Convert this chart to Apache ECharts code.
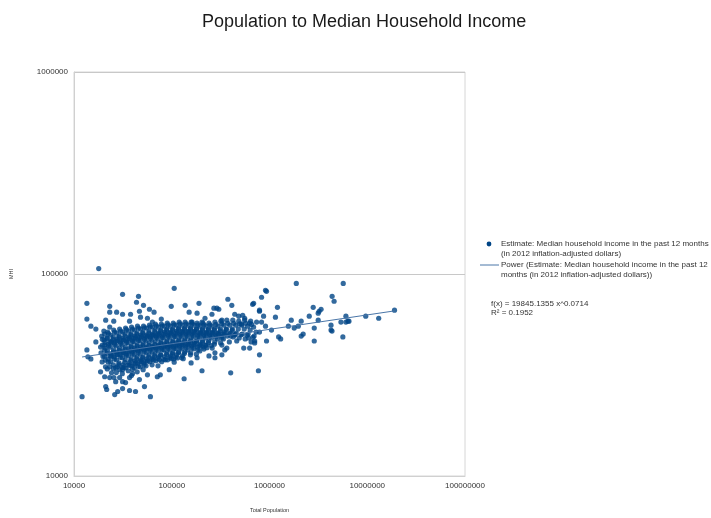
<!DOCTYPE html>
<html>
<head>
<meta charset="utf-8">
<script src="https://cdn.jsdelivr.net/npm/echarts@6/dist/echarts.min.js"></script>
<style>
  html, body { margin: 0; padding: 0; background: #ffffff; }
  #chart { width: 711px; height: 518px; }
</style>
</head>
<body>
<div id="chart"></div>
<script>
// Titles and legend texts
const chartTitle = 'Population to Median Household Income';
const xAxisName = 'Total Population';
const yAxisName = 'MHI';
const seriesName = 'Estimate: Median household income in the past 12 months\n(in 2012 inflation-adjusted dollars)';
const trendName = 'Power (Estimate: Median household income in the past 12\nmonths (in 2012 inflation-adjusted dollars))';

// Axis ticks (log scale, one per decade)
const xTicks = [10000, 100000, 1000000, 10000000, 100000000];
const yTicks = [10000, 100000, 1000000];

// Power trend line f(x) = a * x^b
const trendA = 19845.1355;
const trendB = 0.0714;
const rSquared = 0.1952;

// [total population, median household income] - the main body of areas
const coreAreas = [
  [19200,49300],[19500,44500],[18900,40700],[19400,36700],
  [20600,50400],[20300,47100],[20900,43000],[20500,39300],[21000,34700],
  [22100,51600],[21800,48200],[22400,45000],[22000,41600],[22300,38000],[21900,33900],
  [23800,49900],[24100,46600],[23500,43500],[23900,40200],[23600,36800],[24200,32400],
  [25500,52800],[25200,48800],[25800,45600],[25400,42100],[25700,38900],[25300,35500],[25600,30700],
  [27300,51000],[27700,47700],[27000,44000],[27500,41100],[27200,37600],[27800,34700],
  [29300,53400],[29000,49300],[29600,46100],[29200,43000],[29700,39800],[28900,36300],[29400,33600],
  [31400,51600],[31800,48200],[31100,44500],[31600,41600],[31300,38500],[31900,35500],[31200,32100],
  [33700,54000],[33300,50400],[34100,46600],[33500,43500],[34000,40200],[33400,37600],[33900,34300],
  [36200,52200],[36600,48800],[35800,45600],[36400,42600],[36000,39300],[36700,36300],[35900,33200],
  [38800,54600],[38400,50400],[39200,47100],[38600,44000],[39100,41100],[38500,38000],[39300,35100],[38700,31400],
  [41600,52800],[42100,49300],[41200,46100],[41800,43000],[41300,39800],[42200,37200],[41500,34300],
  [44600,55200],[44100,51000],[45100,47700],[44400,44500],[45000,41600],[44200,38900],[44800,35900],[44300,32800],
  [47900,53400],[48400,49900],[47400,46600],[48100,43500],[47600,40200],[48500,37600],[47700,34700],
  [51400,55200],[50800,51600],[52000,48200],[51100,45000],[51800,42100],[50900,38900],[51600,36300],[51000,33600],
  [55100,54000],[55700,49900],[54500,46600],[55400,43500],[54800,40700],[55800,38000],[54600,35100],
  [59100,55800],[58500,52200],[59800,48800],[58800,45600],[59500,42600],[58600,39800],[59700,36800],
  [63400,54600],[64100,50400],[62700,47100],[63800,44000],[63000,41100],[64200,38500],[62900,35500],
  [68000,56500],[67300,52800],[68700,49300],[67600,46100],[68400,43000],[67400,40200],[68800,37200],
  [72900,54600],[73700,51000],[72200,47700],[73300,44500],[72500,41600],[73800,38900],[72300,35100],
  [78200,56500],[77400,52800],[79000,49300],[77800,46100],[78700,43000],[77500,39800],[78900,36800],
  [83900,55200],[84800,51600],[83000,48200],[84400,45000],[83300,42100],[84900,38900],
  [90000,57100],[89000,53400],[91000,49900],[89500,46600],[90600,43500],[89200,40700],[90800,37600],
  [96500,55200],[97600,51600],[95500,48200],[97000,45000],[95900,42100],[97500,39300],
  [103600,57100],[102400,53400],[104800,49900],[103000,46600],[104300,43500],[102600,40700],[104500,38000],
  [111100,55800],[112400,52200],[109900,48800],[111800,45600],[110400,42600],[112300,39800],
  [119100,57800],[117800,54000],[120500,50400],[118500,47100],[119900,44000],[117900,41100],
  [127800,55800],[129300,52200],[126400,48800],[128600,45600],[127000,42600],[129100,39300],
  [137100,57800],[135600,54000],[138700,50400],[136300,47100],[137900,44000],[135700,41100],
  [147100,55800],[148800,52200],[145500,48800],[148000,45600],[146200,42100],
  [157800,57800],[156000,54000],[159600,50400],[156900,47100],[158700,44000],[156200,40700],
  [169200,55800],[171200,52200],[167300,48800],[170300,45600],[168200,42600],
  [181500,57100],[179500,53400],[183600,49900],[180400,46600],[182700,43500],
  [194700,55200],[196900,51600],[192600,48200],[195900,45000],[193600,41600],
  [208800,57100],[206500,53400],[211200,49900],[207600,46600],[210000,43500],
  [224000,55200],[226600,51600],[221500,48200],[225300,44500],
  [240300,57100],[237700,53400],[243100,49900],[239000,46600],
  [257800,55200],[260800,51600],[254900,48200],[259300,43000],
  [276600,57800],[273500,53400],[279800,49900],[275100,46100],
  [296600,55200],[300000,51000],[293300,47700],
  [318100,58400],[314600,53400],[321800,49300],[316300,45600],
  [341200,55800],[345100,51600],[337400,47700],
  [366000,59100],[361900,53400],[370200,49300],
  [392700,55800],[397200,51000],[388300,46100],
  [421100,59100],[416400,53400],[425900,48800],
  [451700,55800],[456900,51000],
  [484600,58400],[479200,53400],[490100,48200],
  [519700,55800],[525700,50400],
  [557500,59100],[551300,53400],[563900,47700],
  [597900,55200],[604800,50400],
  [641300,58400],[634200,52800],[648700,46100],
  [688000,54600],[695900,49300],
  [737900,57800],[729700,51600]
];

// [total population, median household income] - further areas packed inside the main body
const coreAreasInner = [
  [19500,47500],[20400,42000],[19800,39100],
  [21900,48000],[20800,45900],[21700,40500],[20900,37500],
  [22500,50700],[23400,46000],[22700,44000],[23500,39200],[22400,36600],
  [25100,47500],[24100,45800],[25200,41200],[24200,39200],[25300,34000],
  [26000,51600],[26900,46500],[26100,44600],[27000,39900],[25900,37900],[27100,32500],
  [28900,48600],[27800,46600],[29000,41900],[27900,40000],[28700,35600],
  [30000,52100],[30900,47000],[30100,45300],[31000,40800],[29800,38700],[31200,34400],
  [33200,49200],[32100,47100],[33300,42400],[32200,40700],[33000,36500],[32400,34400],
  [34400,53000],[35500,47800],[34500,45800],[35600,41200],[34300,39600],[35800,35400],
  [38200,49800],[36900,48000],[38300,43500],[37000,41600],[38000,37300],[37200,35300],
  [39600,53300],[40900,48000],[39800,46300],[41000,41900],[39500,40200],[41200,36000],[39600,33800],
  [43900,50300],[42400,48500],[44000,43900],[42500,42100],[43700,38000],[42700,36300],
  [45600,53900],[47000,48600],[45700,46900],[47100,42400],[45400,40900],[47300,36900],[45500,34900],
  [50500,50900],[48900,49000],[50600,44400],[49000,42500],[50300,38400],[49200,36700],
  [52500,54200],[54100,49200],[52600,47400],[54200,42900],[52300,41200],[54400,37100],[52400,35500],
  [58200,51200],[56300,49000],[58300,44400],[56400,42800],[58000,38800],[56600,37100],
  [60400,54800],[62300,49800],[60500,48000],[62400,43500],[60200,41900],[62600,37800],
  [66900,51800],[64800,49500],[67000,44900],[64900,43200],[66700,39300],[65100,37500],
  [69500,55400],[71700,50300],[69600,48500],[71800,43900],[69300,42300],[72000,38200],
  [77000,52100],[74500,50100],[77100,45500],[74600,43700],[76800,39700],[74800,37600],
  [80000,55400],[82500,50300],[80100,48500],[82600,43900],[79800,42100],[82800,37800],
  [88600,52700],[85800,50700],[88700,46000],[85900,44200],[88400,40000],[86100,37600],
  [92000,56000],[95000,50900],[92100,49000],[95100,44400],[91800,42800],[95300,38600],
  [102000,52700],[98600,50700],[102200,46000],[98800,44200],[101700,40200],[99100,38100],
  [106000,56000],[109200,50900],[106200,49000],[109400,44400],[105700,42800],[109800,38800],[105900,36600],
  [117400,53300],[113500,51300],[117600,46600],[113700,44800],[117100,40700],[114000,38400],
  [121900,56700],[125700,51500],[122100,49500],[125900,44900],[121600,43200],[126200,38500],
  [135000,53300],[130600,51300],[135300,46600],[130800,44800],[134700,40400],[131100,38100],
  [140300,56700],[144600,51500],[140500,49500],[144800,44900],[140000,43200],
  [155400,53300],[150400,51300],[155700,46600],[150600,44500],[155100,39800],
  [161500,56700],[166600,51500],[161700,49500],[166800,44900],[161200,43000],
  [178800,53300],[173000,51300],[179000,46600],[173200,44800],[178500,40100],
  [185700,56000],[191600,50900],[185900,49000],[191800,44400],[185400,42200],
  [205700,52700],[199100,50700],[205900,46000],[199300,44000],
  [213700,56000],[220400,50900],[213900,49000],[220600,44400],[213400,42500],
  [236600,52700],[229000,50700],[236800,45700],[229200,43200],
  [246000,56000],[253800,50900],[246200,49000],[254000,44200],
  [272300,52700],[263600,50700],[272500,44900],
  [283100,56300],[292000,50900],[283300,48800],
  [313400,52300],[303400,50100],
  [325500,56600],[335900,50600],[325700,48200],
  [360600,53000],[349100,50400],
  [374500,57000],[386400,50600],
  [415000,52600],[401800,49300],
  [431100,57000],[444800,50300],
  [496000,56600],[511800,50000],
  [570700,57000],[589000,49800],
  [656500,56300],[677500,48600]
];

// [total population, median household income] - areas away from the main body
const outlyingAreas = [
  [17900,106400],[31400,79300],[45700,77500],[13550,71600],[43600,72450],[51400,70000],
  [23200,69200],[59100,66900],[65900,64700],[23200,64700],[27300,64700],[31400,63200],
  [37900,63200],[46700,65400],[13550,59800],[21100,59100],[25500,58400],[37000,58400],
  [47900,61100],[56400,60400],[63400,57800],[78200,59800],[98800,69200],[14880,55200],
  [16740,53400],[20200,52200],[23200,54600],
  [106000,84900],[137100,70000],[190000,71600],[270000,67700],[303000,66900],[375000,75000],
  [411400,70000],[688000,71600],[829300,76700],[932200,82100],[790000,66200],[150600,64700],
  [181500,64000],[257800,63200],[218800,60400],[441000,63200],[484600,61800],[532000,62500],
  [626400,57100],[829300,57800],[910000,55200],[161500,57800],[204000,57800],[325600,59100],
  [519700,56500],
  [1880000,89800],[5680000,89800],[910000,83000],[4370000,77500],[4580000,73300],[672000,70800],
  [1206000,68400],[2800000,68400],[3370000,66900],[3220000,65400],[3150000,64000],[289700,67700],
  [557500,60400],[790000,65400],[870000,61800],[1150000,61100],[1670000,59100],[2110000,58400],
  [2550000,61800],[3150000,59100],[6050000,61800],[6340000,58400],[9650000,61800],[13100000,60400],
  [19000000,66200],[2870000,54000],[4260000,55800],[4260000,52800],[4360000,52200],[5630000,48800],
  [2870000,46600],[1560000,55200],[1790000,54000],[1970000,55200],[2110000,49300],[2210000,50400],
  [1048000,52800],[1240000,48800],[1300000,47700],[790000,51600],[932200,46600],[790000,39800],
  [770000,33200],[401000,32400],[545000,43000],[705000,46600],[612000,48200],[441000,49900],
  [462400,46600],[325600,44500],[366000,43000],[276600,40700],[240300,39300],[276600,38500],
  [204000,33200],
  [5380000,57800],[6050000,57800],[6500000,58400],
  [133800,30300],[157800,36300],[181500,38500],[325600,39800],[349000,42100],[626400,43000],
  [705000,45600],
  [12100,24700],[13550,42100],[13870,38900],[14880,38000],[16740,46100],[18700,43500],
  [20600,44500],[18700,32800],[20600,31000],[21100,27700],[21600,26800],[26100,25300],
  [28000,26200],[31400,27100],[33700,29000],[42600,26200],[52600,27700],[60500,24700],
  [23200,30700],[26700,29300],[29300,30700],[31400,29300],[37000,30700],[39700,32100],
  [46700,30000],[56400,31700],[71200,31000],[76400,31700],[94300,33600],[23200,34700],
  [26700,34300],[31400,33600],[37000,26500]
];

const areas = coreAreas.concat(coreAreasInner, outlyingAreas);

// Trend line spans the population range of the data; a power curve is straight on log-log axes
const popMin = Math.min(...areas.map(p => p[0]));
const popMax = Math.max(...areas.map(p => p[0]));
const trendPoints = [popMin, popMax].map(x => [x, trendA * Math.pow(x, trendB)]);

const font = '"Liberation Sans", Arial, sans-serif';
const dotColor = '#004586';
const trendColor = '#4a76a8';

const chart = echarts.init(document.getElementById('chart'));
chart.setOption({
  animation: false,
  backgroundColor: '#ffffff',
  title: {
    text: chartTitle,
    left: 197,
    top: 8,
    textStyle: { fontFamily: font, fontSize: 18, fontWeight: 'normal', color: '#1a1a1a' }
  },
  grid: {
    left: 71, top: 72, right: 246, bottom: 39,
    show: true, borderColor: '#d6d6d6', borderWidth: 1
  },
  xAxis: {
    type: 'log', logBase: 10,
    min: xTicks[0], max: xTicks[xTicks.length - 1],
    name: xAxisName, nameLocation: 'middle', nameGap: 31,
    nameTextStyle: { fontFamily: font, fontSize: 5.5, color: '#333' },
    axisLine: { show: true, onZero: false, lineStyle: { color: '#d0d0d0', width: 1 } },
    axisTick: { show: false },
    splitLine: { show: false },
    axisLabel: {
      fontFamily: font, fontSize: 8, color: '#333', margin: 6,
      showMinLabel: true, showMaxLabel: true,
      formatter: v => String(Math.round(v))
    }
  },
  yAxis: {
    type: 'log', logBase: 10,
    min: yTicks[0], max: yTicks[yTicks.length - 1],
    name: yAxisName, nameLocation: 'middle', nameGap: 60, nameRotate: 90,
    nameTextStyle: { fontFamily: font, fontSize: 5.5, color: '#333' },
    axisLine: { show: true, onZero: false, lineStyle: { color: '#d0d0d0', width: 1 } },
    axisTick: { show: false },
    splitLine: { show: true, lineStyle: { color: '#c8c8c8', width: 1 } },
    axisLabel: {
      fontFamily: font, fontSize: 8, color: '#333', margin: 6,
      showMinLabel: true, showMaxLabel: true,
      formatter: v => String(Math.round(v))
    }
  },
  series: [
    {
      name: 'Estimate',
      type: 'scatter',
      data: areas,
      symbol: 'circle',
      symbolSize: 5.2,
      itemStyle: { color: dotColor },
      silent: true
    },
    {
      name: 'Power',
      type: 'line',
      data: trendPoints,
      showSymbol: false,
      lineStyle: { color: trendColor, width: 1 },
      silent: true
    }
  ],
  graphic: [
    { type: 'circle', shape: { cx: 489, cy: 244, r: 2.4 }, style: { fill: dotColor } },
    { type: 'text', x: 501, y: 239,
      style: { text: seriesName, font: '8px ' + font, fill: '#333', lineHeight: 10, verticalAlign: 'top' } },
    { type: 'line', shape: { x1: 480, y1: 265, x2: 499, y2: 265 },
      style: { stroke: trendColor, lineWidth: 1 } },
    { type: 'text', x: 501, y: 260,
      style: { text: trendName, font: '8px ' + font, fill: '#333', lineHeight: 10, verticalAlign: 'top' } },
    { type: 'text', x: 491, y: 299,
      style: { text: 'f(x) = ' + trendA.toFixed(4) + ' x^' + trendB.toFixed(4) + '\nR\u00b2 = ' + rSquared.toFixed(4),
               font: '8px ' + font, fill: '#333', lineHeight: 9, verticalAlign: 'top' } }
  ]
});
</script>
</body>
</html>
